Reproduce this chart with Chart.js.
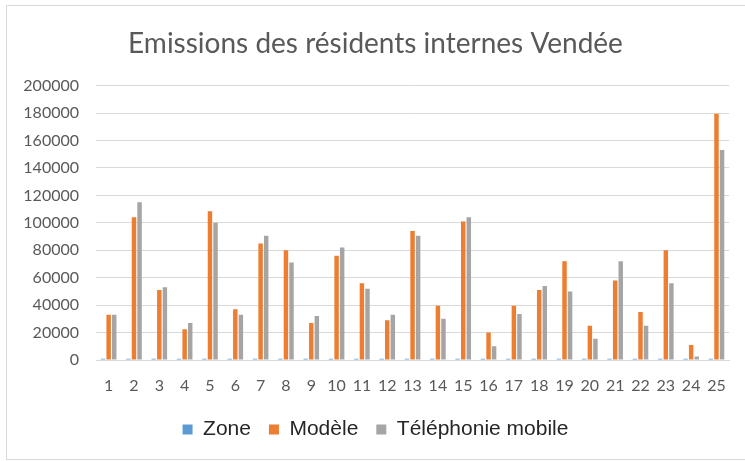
<!DOCTYPE html>
<html>
<head>
<meta charset="utf-8">
<script src="https://cdn.jsdelivr.net/npm/chart.js@4/dist/chart.umd.min.js"></script>
<style>
    html, body { margin: 0; padding: 0; background: #ffffff; }
    #wrap { width: 745px; height: 461px; position: relative; }
</style>
</head>
<body>
<div id="wrap"><canvas id="emissionsChart" width="745" height="461"></canvas></div>
<script>
const categories = ['1', '2', '3', '4', '5', '6', '7', '8', '9', '10', '11', '12', '13',
    '14', '15', '16', '17', '18', '19', '20', '21', '22', '23', '24', '25'];

const zoneValues = [1000, 1000, 1000, 1000, 1000, 1000, 1000, 1000, 1000, 1000, 1000, 1000, 1000,
    1000, 1000, 1000, 1000, 1000, 1000, 1000, 1000, 1000, 1000, 1000, 1000];

const modeleValues = [33000, 104000, 51000, 22500, 108500, 37000, 85000, 80000, 27000, 76000, 56000, 29000, 94000,
    39500, 101000, 20000, 39500, 51000, 72000, 25000, 58000, 35000, 80000, 11000, 179500];

const mobileValues = [33000, 115000, 53000, 27000, 100000, 33000, 90500, 71000, 32000, 82000, 52000, 33000, 90500,
    30000, 104000, 10000, 33500, 54000, 50000, 15500, 72000, 25000, 56000, 2500, 153000];

const yTicks = [0, 20000, 40000, 60000, 80000, 100000, 120000, 140000, 160000, 180000, 200000];

// light frame around the chart, like the Excel chart border
const framePlugin = {
    id: 'frame',
    beforeDraw(chart) {
        const ctx = chart.ctx;
        ctx.save();
        ctx.strokeStyle = '#d9d9d9';
        ctx.lineWidth = 1;
        ctx.strokeRect(6.5, 5.5, 760, 454);
        ctx.restore();
    }
};

const ctx = document.getElementById('emissionsChart').getContext('2d');
new Chart(ctx, {
    type: 'bar',
    data: {
        labels: categories,
        datasets: [
            {
                label: 'Zone',
                data: zoneValues,
                backgroundColor: '#5B9BD5'
            },
            {
                label: 'Modèle',
                data: modeleValues,
                backgroundColor: '#ED7D31'
            },
            {
                label: 'Téléphonie mobile',
                data: mobileValues,
                backgroundColor: '#A5A5A5'
            }
        ]
    },
    options: {
        responsive: false,
        animation: false,
        devicePixelRatio: 1,
        categoryPercentage: 0.66,
        barPercentage: 0.8,
        layout: {
            padding: { left: 18, right: 12, top: 14, bottom: 11 }
        },
        scales: {
            x: {
                afterFit(scale) { scale.height = 41; },
                grid: { display: false, drawTicks: false },
                border: { color: '#d9d9d9' },
                ticks: {
                    color: '#595959',
                    font: { family: 'Lato', size: 16, lineHeight: 0.8 },
                    padding: 19,
                    maxRotation: 0,
                    autoSkip: false
                }
            },
            y: {
                min: 0,
                max: 200000,
                afterFit(scale) { scale.width = 78; },
                afterBuildTicks(scale) { scale.ticks = yTicks.map(v => ({ value: v })); },
                grid: { color: '#d9d9d9', drawTicks: false },
                border: { display: false },
                ticks: {
                    color: '#595959',
                    font: { family: 'Lato', size: 16 },
                    padding: 17,
                    callback: function(value) {
                        return String(value);
                    }
                }
            }
        },
        plugins: {
            title: {
                display: true,
                text: 'Emissions des résidents internes Vendée',
                color: '#595959',
                font: { family: 'Lato', size: 28, weight: 'normal' },
                padding: { top: 13, bottom: 25 }
            },
            legend: {
                position: 'bottom',
                labels: {
                    color: '#262626',
                    font: { family: 'Liberation Sans', size: 21 },
                    boxWidth: 10,
                    boxHeight: 10,
                    padding: 18
                }
            },
            tooltip: { enabled: false }
        }
    },
    plugins: [framePlugin]
});
</script>
</body>
</html>
